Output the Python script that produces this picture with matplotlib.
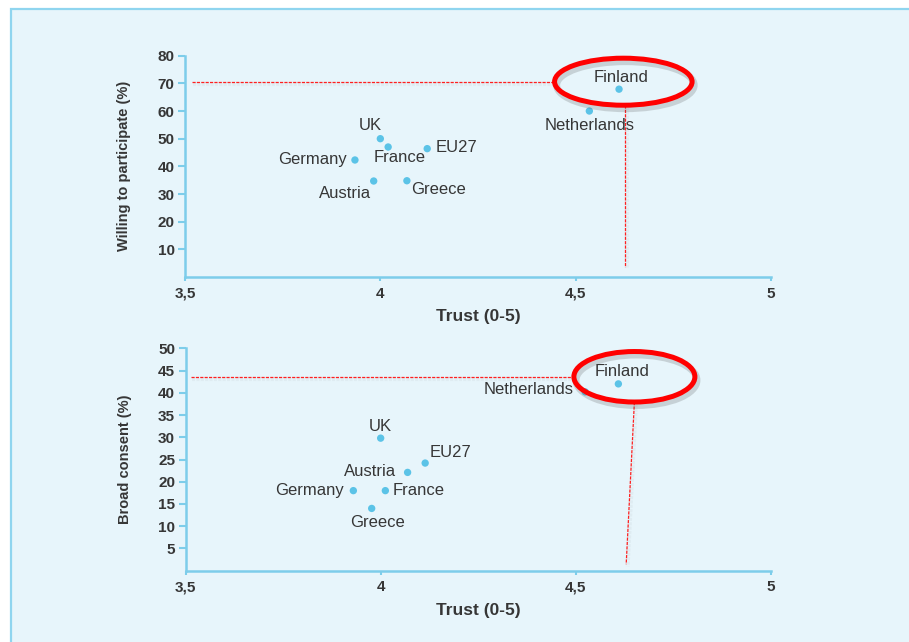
"""
Trust vs. willingness to participate / broad consent, per country.
Finland is circled in both panels.
"""

import matplotlib
matplotlib.use("Agg")
import matplotlib.pyplot as plt
import matplotlib.patheffects as pe
from matplotlib.patches import Ellipse, Rectangle


# ─────────────────────────────────────────
# Data
# ─────────────────────────────────────────

countries = ["UK", "France", "EU27", "Germany", "Austria", "Greece",
             "Finland", "Netherlands"]

trust_top = [4.00, 4.02, 4.12, 3.935, 3.983, 4.068, 4.611, 4.535]
willing = [50.0, 47.0, 46.4, 42.3, 34.7, 34.8, 67.9, 60.0]

trust_bottom = [4.00, 4.012, 4.114, 3.93, 4.069, 3.977, 4.609, 4.524]
consent = [29.8, 18.0, 24.2, 18.0, 22.1, 14.0, 42.0, 40.2]

x_ticks = [3.5, 4, 4.5, 5]
x_tick_labels = ["3,5", "4", "4,5", "5"]
y_ticks_top = [10, 20, 30, 40, 50, 60, 70, 80]
y_ticks_bottom = [5, 10, 15, 20, 25, 30, 35, 40, 45, 50]

# label placement (offset in px, horizontal alignment) per country
label_pos_top = {
    "UK": (-10, 13, "center"), "France": (-15, -11, "left"),
    "EU27": (8, 1, "left"), "Germany": (-8, 0, "right"),
    "Austria": (-3, -12, "right"), "Greece": (4, -9, "left"),
    "Finland": (2, 12, "center"), "Netherlands": (0, -14, "center"),
}
label_pos_bottom = {
    "UK": (0, 12, "center"), "France": (7, 0, "left"),
    "EU27": (4, 11, "left"), "Germany": (-9, 0, "right"),
    "Austria": (-12, 1, "right"), "Greece": (6, -14, "center"),
    "Finland": (4, 12, "center"), "Netherlands": (-12, 2, "right"),
}

BG = "#e7f5fb"
AXIS_C = "#7dcdea"
DOT_C = "#5bc3e7"
TEXT_C = "#363636"
RED = "#ff2020"

plt.rcParams["font.family"] = ["Liberation Sans", "DejaVu Sans"]

fig = plt.figure(figsize=(9.09, 6.42), dpi=100, facecolor="white")
fig.patches.append(Rectangle((11 / 909, -0.05), 1.2, 1 - 9 / 642 + 0.05,
                             transform=fig.transFigure, facecolor=BG,
                             edgecolor="#8fd5ef", lw=1.6, zorder=-10))

ax1 = fig.add_axes([185 / 909, 1 - 277 / 642, 586 / 909, 221.3 / 642])
ax2 = fig.add_axes([185.5 / 909, 1 - 570.7 / 642, 585.5 / 909, 222.4 / 642])


def style_axis(ax, ylim, yticks, ylabel):
    ax.set_facecolor("none")
    ax.set_xlim(3.5, 5)
    ax.set_ylim(*ylim)
    for s in ("top", "right"):
        ax.spines[s].set_visible(False)
    for s in ("left", "bottom"):
        ax.spines[s].set_color(AXIS_C)
        ax.spines[s].set_linewidth(1.8)
    ax.set_xticks(x_ticks)
    ax.set_xticklabels(x_tick_labels)
    ax.set_yticks(yticks)
    ax.tick_params(axis="x", colors=AXIS_C, labelcolor=TEXT_C, length=3,
                   width=1.5, labelsize=11, pad=4)
    ax.tick_params(axis="y", colors=AXIS_C, labelcolor=TEXT_C, length=5,
                   width=1.5, labelsize=11, pad=2.5)
    for lab in ax.get_xticklabels() + ax.get_yticklabels():
        lab.set_fontweight("bold")
    ax.set_xlabel("Trust (0-5)", fontsize=12.5, fontweight="bold",
                  color=TEXT_C, labelpad=6)
    ax.set_ylabel(ylabel, fontsize=10.5, fontweight="bold", color=TEXT_C,
                  labelpad=19)


def plot_panel(ax, xs, ys, label_pos):
    ax.scatter(xs, ys, s=28, color=DOT_C, edgecolors="none", zorder=3)
    for name, x, y in zip(countries, xs, ys):
        dx, dy, ha = label_pos[name]
        ax.annotate(name, (x, y), xytext=(dx * 0.72, dy * 0.72),
                    textcoords="offset points", ha=ha, va="center",
                    fontsize=12, color=TEXT_C, zorder=4)


shadow = [pe.Stroke(linewidth=3, foreground="#9aa6ab", alpha=0.10,
                    offset=(1, -1.5)), pe.Normal()]


def highlight(ax, hline, vline, center, size):
    # dashed guide lines + red circle around Finland
    for xs, ys in (hline, vline):
        ax.plot(xs, ys, color=RED, lw=0.9, ls=(0, (2.5, 1)),
                path_effects=shadow, zorder=2, solid_capstyle="butt")
    ell = Ellipse(center, size[0], size[1], facecolor="none", edgecolor="#ff0000",
                  lw=3.6, zorder=5, clip_on=False,
                  path_effects=[pe.SimpleLineShadow(offset=(1.5, -2.5),
                                                    shadow_color="#555555",
                                                    alpha=0.22, linewidth=5),
                                pe.Normal()])
    ax.add_patch(ell)


style_axis(ax1, (0, 80), y_ticks_top, "Willing to participate (%)")
plot_panel(ax1, trust_top, willing, label_pos_top)
highlight(ax1, ([3.517, 4.444], [70.5, 70.5]), ([4.627, 4.627], [62.2, 3.7]),
          (4.622, 70.6), (0.352, 17.0))

style_axis(ax2, (0, 50), y_ticks_bottom, "Broad consent (%)")
plot_panel(ax2, trust_bottom, consent, label_pos_bottom)
highlight(ax2, ([3.514, 4.493], [43.5, 43.5]), ([4.650, 4.629], [37.9, 1.45]),
          (4.650, 43.6), (0.310, 11.35))

fig.savefig("out.png", dpi=100, facecolor=fig.get_facecolor())
